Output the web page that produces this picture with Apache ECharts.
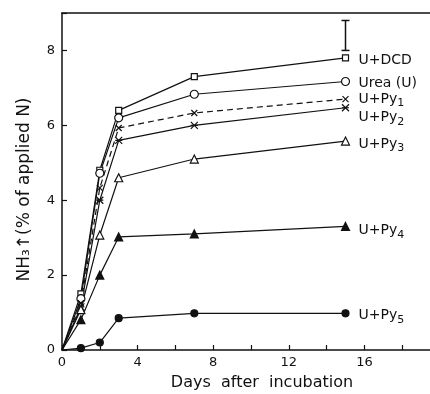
<!DOCTYPE html>
<html>
<head>
<meta charset="utf-8">
<script src="https://cdn.jsdelivr.net/npm/echarts@6/dist/echarts.min.js"></script>
<style>
  html, body { margin: 0; padding: 0; background: #fff; }
  #chart { width: 430px; height: 394px; }
</style>
</head>
<body>
<div id="chart"></div>
<script>
// days after incubation
const days = [0, 1, 2, 3, 7, 15]

// NH3 volatilised, % of applied N
const dcd  = [0, 1.50, 4.80, 6.40, 7.30, 7.80]
const urea = [0, 1.37, 4.72, 6.20, 6.83, 7.17]
const py1  = [0, 1.25, 4.33, 5.93, 6.33, 6.70]
const py2  = [0, 1.15, 4.00, 5.60, 6.00, 6.47]
const py3  = [0, 1.08, 3.07, 4.60, 5.10, 5.58]
const py4  = [0, 0.81, 2.00, 3.02, 3.10, 3.30]
const py5  = [0, 0.05, 0.20, 0.85, 0.98, 0.98]

// LSD bar at day 15
const errBar = [[15, 8.0, 8.8]]

const xTicks = [0, 4, 8, 12, 16]
const yTicks = [0, 2, 4, 6, 8]

const FONT = 'DejaVu Sans, sans-serif'
const INK = '#111'

const SYM = {
  cross:    'path://M0,0L10,10M10,0L0,10',
  asterisk: 'path://M0,0L10,10M10,0L0,10M0,5L10,5',
}

function pts(ys) {
  // no marker at the origin
  return ys.map((y, i) => i === 0 ? { value: [days[i], y], symbol: 'none' } : [days[i], y])
}

const rich = {
  t: { fontFamily: FONT, fontSize: 14, color: INK },
  s: { fontFamily: FONT, fontSize: 11, color: INK, padding: [9, 0, 0, 0] },
}

function series(name, ys, symbol, size, opts = {}) {
  return {
    name,
    type: 'line',
    data: pts(ys),
    symbol,
    symbolSize: size,
    lineStyle: { color: INK, width: 1.2, type: opts.dashed ? [6, 4] : 'solid' },
    itemStyle: {
      color: opts.filled ? INK : '#fff',
      borderColor: INK,
      borderWidth: 1.2,
    },
    endLabel: {
      show: true,
      formatter: opts.label,
      rich,
      offset: [5, opts.dy || 0],
    },
    z: 3,
    animation: false,
  }
}

const chart = echarts.init(document.getElementById('chart'), null, { renderer: 'canvas' })

const axisLine = { lineStyle: { color: INK, width: 1.5 } }

chart.setOption({
  backgroundColor: '#fff',
  animation: false,
  // plot runs past the right edge, as in the cropped original
  grid: {
    left: 62, right: -10, top: 13, bottom: 44,
    containLabel: false, outerBoundsMode: 'none',
  },
  xAxis: [
    {
      type: 'value',
      min: 0, max: 20, interval: 2,
      name: 'Days  after  incubation',
      nameLocation: 'middle',
      nameGap: 25,
      nameTextStyle: { fontFamily: FONT, fontSize: 16, color: INK, padding: [0, 0, 0, 22] },
      axisLine,
      axisTick: { inside: true, length: 5, lineStyle: { color: INK, width: 1.2 } },
      axisLabel: {
        fontFamily: FONT, fontSize: 13, color: INK, margin: 6,
        formatter: v => xTicks.includes(v) ? String(v) : '',
      },
      splitLine: { show: false },
    },
    {
      // top frame line only
      type: 'value', position: 'top',
      min: 0, max: 20,
      axisLine,
      axisTick: { show: false },
      axisLabel: { show: false },
      splitLine: { show: false },
    },
  ],
  yAxis: {
    type: 'value',
    min: 0, max: 9, interval: 2,
    name: 'NH₃↑(% of applied N)',
    nameLocation: 'middle',
    nameGap: 29,
    nameRotate: 90,
    nameTextStyle: { fontFamily: FONT, fontSize: 17, color: INK, padding: [0, 16, 0, 0] },
    axisLine,
    axisTick: { inside: true, length: 5, lineStyle: { color: INK, width: 1.2 } },
    axisLabel: {
      fontFamily: FONT, fontSize: 13, color: INK, margin: 7,
      formatter: v => yTicks.includes(v) ? String(v) : '',
    },
    splitLine: { show: false },
  },
  series: [
    series('U+DCD', dcd, 'rect', 6, { label: '{t|U+DCD}', dy: 2 }),
    series('Urea (U)', urea, 'circle', 8, { label: '{t|Urea (U)}', dy: 2 }),
    series('U+Py1', py1, SYM.cross, 6, { dashed: true, label: '{t|U+Py}{s|1}', dy: 0 }),
    series('U+Py2', py2, SYM.asterisk, 7, { label: '{t|U+Py}{s|2}', dy: 10 }),
    series('U+Py3', py3, 'triangle', 8, { label: '{t|U+Py}{s|3}', dy: 3 }),
    series('U+Py4', py4, 'triangle', 8, { filled: true, label: '{t|U+Py}{s|4}', dy: 4 }),
    series('U+Py5', py5, 'circle', 7, { filled: true, label: '{t|U+Py}{s|5}', dy: 2 }),
    {
      name: 'LSD',
      type: 'custom',
      data: errBar,
      renderItem: (params, api) => {
        const lo = api.coord([api.value(0), api.value(1)])
        const hi = api.coord([api.value(0), api.value(2)])
        const w = 4
        const style = { stroke: INK, lineWidth: 1.5 }
        return {
          type: 'group',
          children: [
            { type: 'line', shape: { x1: lo[0], y1: lo[1], x2: hi[0], y2: hi[1] }, style },
            { type: 'line', shape: { x1: lo[0] - w, y1: lo[1], x2: lo[0] + w, y2: lo[1] }, style },
            { type: 'line', shape: { x1: hi[0] - w, y1: hi[1], x2: hi[0] + w, y2: hi[1] }, style },
          ],
        }
      },
      z: 4,
    },
  ],
})
</script>
</body>
</html>
